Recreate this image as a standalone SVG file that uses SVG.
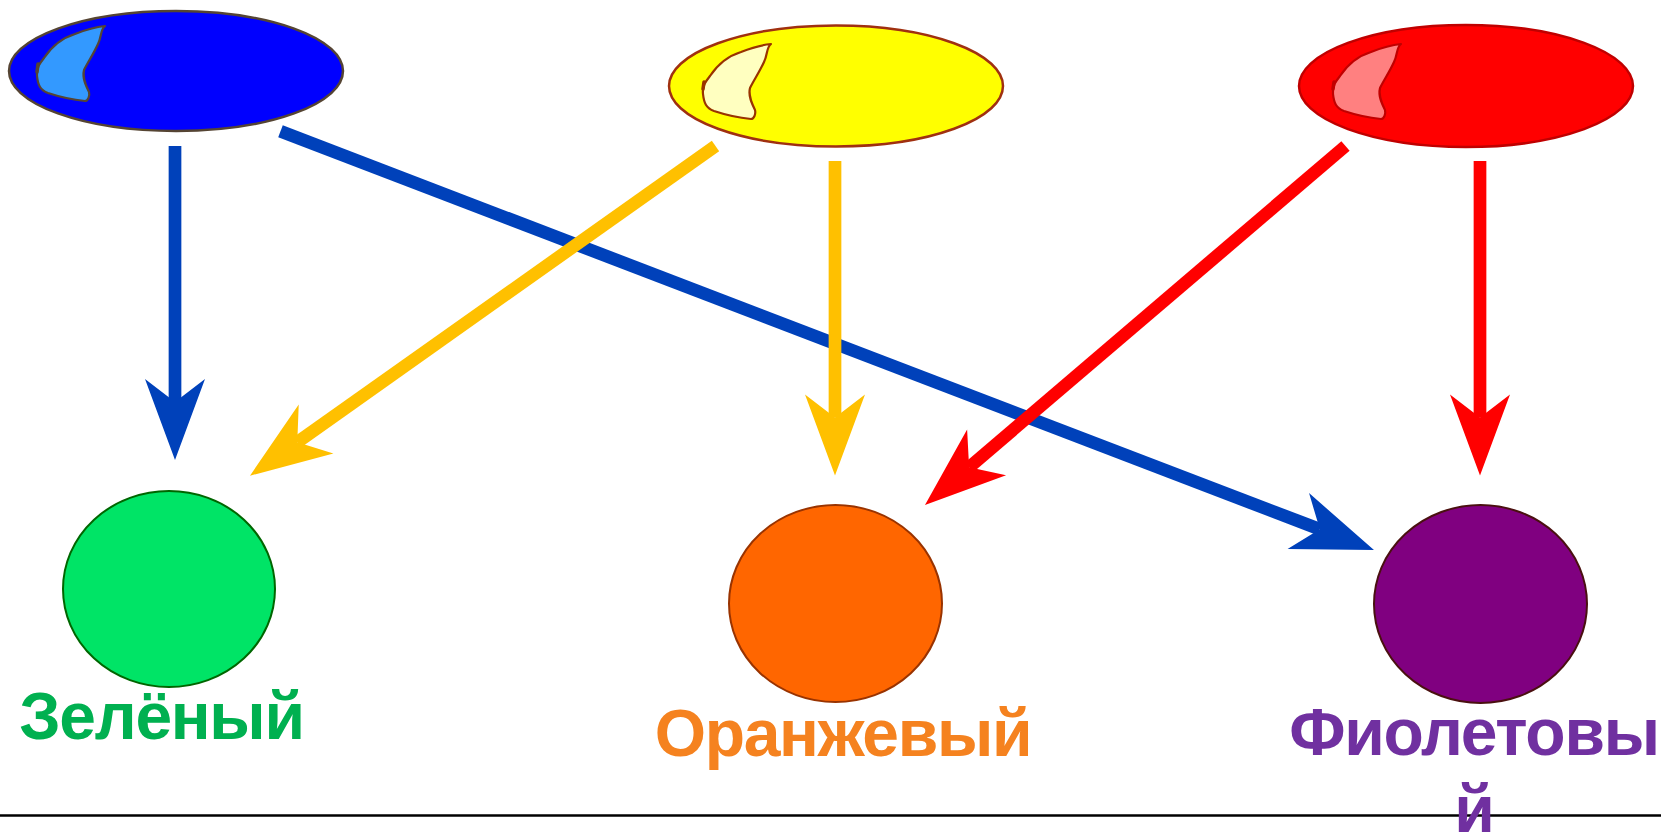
<svg xmlns="http://www.w3.org/2000/svg" width="1661" height="836" viewBox="0 0 1661 836">
  <style>
    .lbl { font-family: "Liberation Sans", Arial, sans-serif; font-weight: bold; font-size: 66px; letter-spacing: -1.3px; text-anchor: middle; }
    .conn { fill: none; stroke-width: 12.7; stroke-linecap: butt; }
    .hl { stroke-width: 2.2; stroke-linejoin: round; }
  </style>
  <defs>
    <path id="hlshape" d="M-65,-42 C-70,-38 -68,-32 -72,-24 C-76,-15 -82,-6 -86,2 C-88,10 -84,18 -81,24 C-80,28 -82,33 -85,33 C-95,32 -110,29 -122,25 C-130,22 -132,17 -133,8 C-134,0 -130,-5 -126,-10 C-118,-22 -108,-30 -95,-34 C-85,-38 -75,-41 -65,-42 Z"/>
    <marker id="ahBlue" markerUnits="userSpaceOnUse" viewBox="-1 -31 83 62" markerWidth="83" markerHeight="62" refX="23" refY="0" orient="auto">
      <path d="M0,-30 L81,0 L0,30 L23,0 Z" fill="#0041BA"/>
    </marker>
    <marker id="ahYellow" markerUnits="userSpaceOnUse" viewBox="-1 -31 83 62" markerWidth="83" markerHeight="62" refX="23" refY="0" orient="auto">
      <path d="M0,-30 L81,0 L0,30 L23,0 Z" fill="#FFC000"/>
    </marker>
    <marker id="ahRed" markerUnits="userSpaceOnUse" viewBox="-1 -31 83 62" markerWidth="83" markerHeight="62" refX="23" refY="0" orient="auto">
      <path d="M0,-30 L81,0 L0,30 L23,0 Z" fill="#FF0000"/>
    </marker>
  </defs>

  <rect width="1661" height="836" fill="#FFFFFF"/>

  <line x1="0" y1="815.5" x2="1661" y2="815.5" stroke="#000000" stroke-width="2.5"/>

  <g id="blue-node">
    <ellipse cx="176" cy="71" rx="167" ry="60" fill="#0000FF" stroke="#554433" stroke-width="2.5"/>
    <use href="#hlshape" transform="translate(170,68)" class="hl" fill="#3399FF" stroke="#554433"/>
    <path d="M38,64 L37,72" stroke="#554433" stroke-width="3.5" stroke-linecap="round"/>
  </g>

  <g id="yellow-node">
    <ellipse cx="836" cy="86" rx="167" ry="60.5" fill="#FFFF00" stroke="#A03010" stroke-width="2.5"/>
    <use href="#hlshape" transform="translate(836,86)" class="hl" fill="#FFFFC0" stroke="#993300"/>
    <path d="M704,82 L703,89" stroke="#993300" stroke-width="3.5" stroke-linecap="round"/>
  </g>

  <g id="red-node">
    <ellipse cx="1466" cy="86" rx="167" ry="61" fill="#FF0000" stroke="#C00000" stroke-width="2.5"/>
    <use href="#hlshape" transform="translate(1466,86)" class="hl" fill="#FF8080" stroke="#C00000"/>
    <path d="M1334,82 L1333,89" stroke="#C00000" stroke-width="3.5" stroke-linecap="round"/>
  </g>

  <g id="green-node">
    <ellipse cx="169" cy="589" rx="106" ry="98" fill="#00E466" stroke="#006600" stroke-width="2"/>
    <text class="lbl" x="161.5" y="739" fill="#00B050">Зелёный</text>
  </g>

  <g id="orange-node">
    <ellipse cx="835.5" cy="603.5" rx="106.5" ry="98.5" fill="#FF6600" stroke="#993300" stroke-width="2"/>
    <text class="lbl" x="843" y="756" fill="#F5821F">Оранжевый</text>
  </g>

  <g id="purple-node">
    <ellipse cx="1480.5" cy="604" rx="106.5" ry="99" fill="#800080" stroke="#4A1010" stroke-width="2"/>
    <text class="lbl" x="1474" y="755" fill="#7030A0">Фиолетовы</text>
    <text class="lbl" x="1474" y="832" fill="#7030A0">й</text>
  </g>

  <g id="connectors">
    <line class="conn" x1="175" y1="146" x2="175" y2="402" stroke="#0041BA" marker-end="url(#ahBlue)"/>
    <line class="conn" x1="280.5" y1="131.3" x2="1319.8" y2="529.3" stroke="#0041BA" marker-end="url(#ahBlue)"/>
    <line class="conn" x1="715.5" y1="146" x2="297.3" y2="442.2" stroke="#FFC000" marker-end="url(#ahYellow)"/>
    <line class="conn" x1="835" y1="161" x2="835" y2="417.5" stroke="#FFC000" marker-end="url(#ahYellow)"/>
    <line class="conn" x1="1345.5" y1="146" x2="969.1" y2="467.3" stroke="#FF0000" marker-end="url(#ahRed)"/>
    <line class="conn" x1="1480" y1="161" x2="1480" y2="417.5" stroke="#FF0000" marker-end="url(#ahRed)"/>
  </g>
</svg>
